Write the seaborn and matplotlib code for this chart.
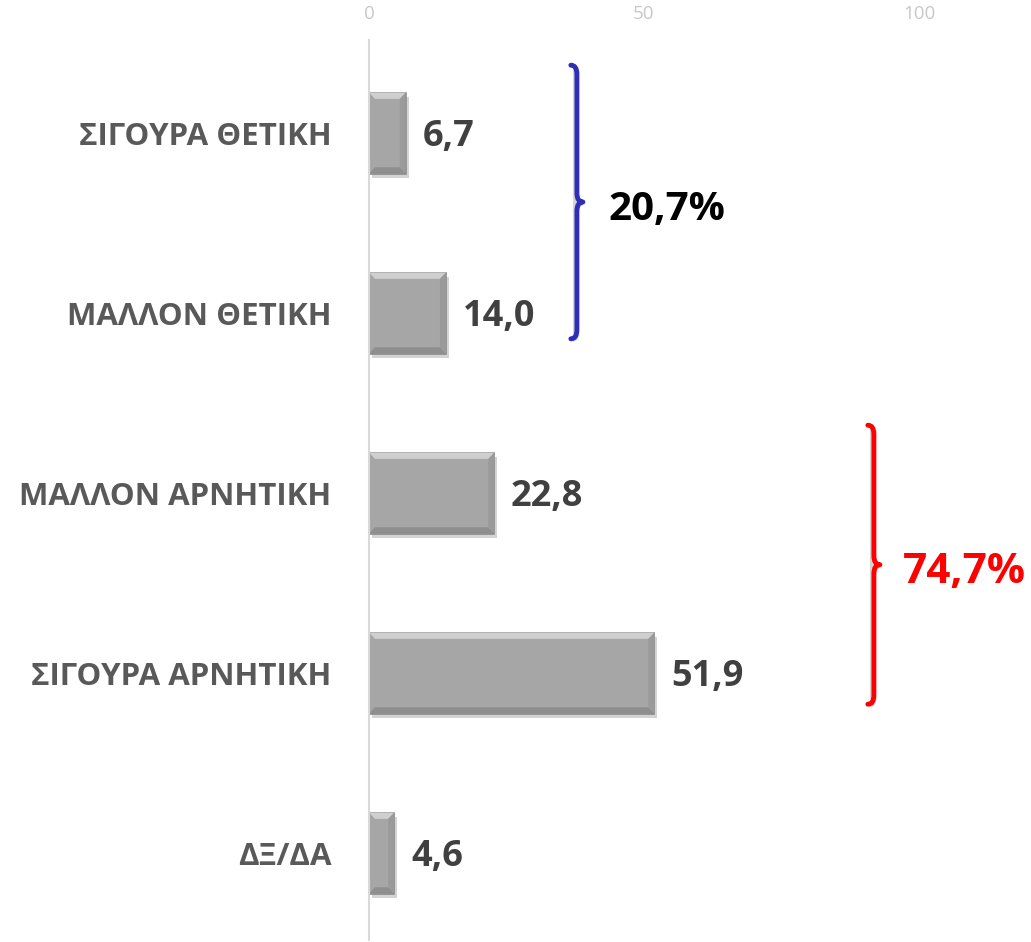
import matplotlib
matplotlib.use("Agg")
import matplotlib.pyplot as plt
import seaborn as sns
import pandas as pd
import numpy as np
from matplotlib.path import Path
from matplotlib.patches import PathPatch, Polygon
import matplotlib.patheffects as pe

categories = ["ΣΙΓΟΥΡΑ ΘΕΤΙΚΗ", "ΜΑΛΛΟΝ ΘΕΤΙΚΗ", "ΜΑΛΛΟΝ ΑΡΝΗΤΙΚΗ", "ΣΙΓΟΥΡΑ ΑΡΝΗΤΙΚΗ", "ΔΞ/ΔΑ"]
values = [6.7, 14.0, 22.8, 51.9, 4.6]
value_labels = ["6,7", "14,0", "22,8", "51,9", "4,6"]
x_ticks = [0, 50, 100]
group_labels = ["20,7%", "74,7%"]

sns.set_theme(style="white")
plt.rcParams['font.family'] = ['Open Sans', 'DejaVu Sans']

fig = plt.figure(figsize=(10.31, 9.42), dpi=100)
ax = fig.add_axes([369/1031, 2/942, (919-369)/1031, 900/942])

df = pd.DataFrame({"cat": categories, "val": values})
sns.barplot(data=df, y="cat", x="val", orient="h", color="#A6A6A6",
            width=0.45, ax=ax, saturation=1, edgecolor="#8A8A8A", linewidth=1.2)

bars = list(ax.patches)
for p in bars:
    p.set_path_effects([pe.SimplePatchShadow(offset=(2, -3), shadow_rgbFace="#C8C8C8", alpha=0.8), pe.Normal()])
    # bevel facets derived from the bar geometry
    x0, y0 = p.get_x(), p.get_y()
    w, h = p.get_width(), p.get_height()
    bx, by = min(1.1, w * 0.3), 0.035
    x1, y1 = x0 + w, y0 + h
    top = [(x0, y0), (x1, y0), (x1 - bx, y0 + by), (x0 + bx, y0 + by)]
    bot = [(x0, y1), (x1, y1), (x1 - bx, y1 - by), (x0 + bx, y1 - by)]
    right = [(x1, y0), (x1, y1), (x1 - bx, y1 - by), (x1 - bx, y0 + by)]
    ax.add_patch(Polygon(top, closed=True, facecolor="#CFCFCF", edgecolor="none", zorder=p.get_zorder() + 0.1))
    ax.add_patch(Polygon(bot, closed=True, facecolor="#8E8E8E", edgecolor="none", zorder=p.get_zorder() + 0.1))
    ax.add_patch(Polygon(right, closed=True, facecolor="#9A9A9A", edgecolor="none", zorder=p.get_zorder() + 0.1))

shift = 0.017
ax.set_xlim(0, 100)
ax.set_ylim(4.5 - shift, -0.5 - shift)
ax.set_xticks(x_ticks)
ax.xaxis.tick_top()
ax.tick_params(axis="x", length=0, pad=12, labelsize=13.5, labelcolor="#C8C8C8")
ax.tick_params(axis="y", length=0, pad=27)
for t in ax.get_yticklabels():
    t.set_fontsize(22.5)
    t.set_fontweight("bold")
    t.set_color("#595959")
ax.set_xlabel("")
ax.set_ylabel("")
for s in ["top", "right", "bottom"]:
    ax.spines[s].set_visible(False)
ax.spines["left"].set_color("#D9D9D9")
ax.spines["left"].set_linewidth(1.5)

anns = ax.bar_label(ax.containers[0], labels=value_labels, padding=12, fontsize=26,
                    fontweight="bold", color="#404040")
for a in anns:
    a.xyann = (a.xyann[0], -3)

def brace(ax, x, y0, y1, color, hook=1.1, tip=1.1):
    ym = (y0 + y1) / 2
    dy = 0.05
    verts = [
        (x - hook, y0), (x, y0), (x, y0 + dy),
        (x, ym - dy), (x, ym), (x + tip, ym),
        (x, ym), (x, ym + dy),
        (x, y1 - dy), (x, y1), (x - hook, y1),
    ]
    codes = [Path.MOVETO, Path.CURVE3, Path.CURVE3,
             Path.LINETO, Path.CURVE3, Path.CURVE3,
             Path.CURVE3, Path.CURVE3,
             Path.LINETO, Path.CURVE3, Path.CURVE3]
    patch = PathPatch(Path(verts, codes), facecolor="none", edgecolor=color,
                      linewidth=3.5, clip_on=False, capstyle="round", joinstyle="round")
    patch.set_path_effects([pe.SimplePatchShadow(offset=(1.5, -2), shadow_rgbFace="#AAAAAA", alpha=0.5), pe.Normal()])
    ax.add_patch(patch)

brace(ax, 37.8, -0.36 - shift, 1.16 - shift, "#2E2EB8")
brace(ax, 91.8, 1.64 - shift, 3.19 - shift, "#FF0000")

ax.text(43.5, 0.44 - shift, group_labels[0], fontsize=29, fontweight="bold", color="black",
        va="center", ha="left", clip_on=False)
ax.text(97.0, 2.46 - shift, group_labels[1], fontsize=30.5, fontweight="bold", color="#FF0000",
        va="center", ha="left", clip_on=False)

fig.savefig("out.png", dpi=100)
